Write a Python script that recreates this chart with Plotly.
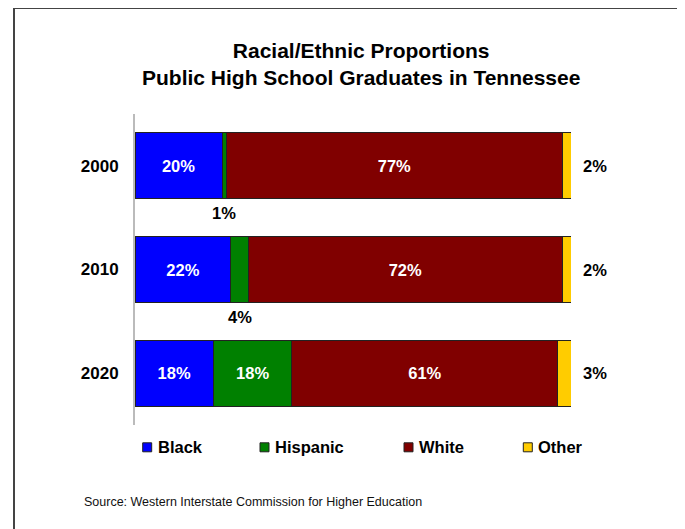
import plotly.graph_objects as go

# ---- data ----
years = ["2000", "2010", "2020"]
black = [20, 22, 18]
hispanic = [1, 4, 18]
white = [77, 72, 61]
other = [2, 2, 3]
series_names = ["Black", "Hispanic", "White", "Other"]
series_colors = ["#0000FF", "#008000", "#800000", "#FFCC00"]
title_text = "Racial/Ethnic Proportions<br>Public High School Graduates in Tennessee"
source_text = "Source: Western Interstate Commission for Higher Education"

FONT = "Liberation Sans, Arial, sans-serif"
OFF = 8  # page body margin offset
W, H = 685 - OFF, 529 - OFF
# plot area in page pixels: x 135..571, y 114..425
L = 135 - OFF
R = W - (571 - OFF)
T = 114 - OFF
B = H - (425 - OFF)
PW, PH = W - L - R, H - T - B

cat_order = years[::-1]  # bottom-to-top order on the category axis


def px2x(px):  # page px -> paper x
    return (px - OFF - L) / PW


def py2y(py):  # page py -> paper y
    return (H - B - (py - OFF)) / PH


def pct(v):
    return f"{v}%"


def bold(s):
    return "<b>" + s + "</b>"


fig = go.Figure()
values = [black, hispanic, white, other]
for name, color, vals in zip(series_names, series_colors, values):
    if name in ("Black", "White"):
        text = [bold(pct(v)) for v in vals]
    elif name == "Hispanic":
        text = [bold(pct(v)) if v >= 10 else "" for v in vals]
    else:
        text = ["" for v in vals]
    fig.add_trace(go.Bar(
        y=years, x=vals, name=name, orientation="h",
        marker=dict(color=color, line=dict(color="#222222", width=1)),
        text=text, textposition="inside", insidetextanchor="middle",
        textfont=dict(color="white", size=16.5, family=FONT),
        hoverinfo="skip", showlegend=False,
    ))

annotations = []
# small Hispanic labels below the bar
for yr, b, h in zip(years, black, hispanic):
    if h < 10:
        annotations.append(dict(
            x=b + h / 2, y=cat_order.index(yr), xref="x", yref="y",
            text=bold(pct(h)), showarrow=False, yshift=-47,
            font=dict(size=16.5, family=FONT, color="black"),
        ))
# Other labels right of the bar
for yr, b, h, w, o in zip(years, black, hispanic, white, other):
    annotations.append(dict(
        x=b + h + w + o, y=cat_order.index(yr), xref="x", yref="y",
        text=bold(pct(o)), showarrow=False, xanchor="left", xshift=10,
        font=dict(size=16.5, family=FONT, color="black"),
    ))

# manual legend
legend_sq_left = [142.7, 260, 404, 523.3]
legend_y = 447.3
shapes = []
for name, color, sx in zip(series_names, series_colors, legend_sq_left):
    shapes.append(dict(
        type="rect", xref="paper", yref="paper",
        x0=px2x(sx), x1=px2x(sx + 9), y0=py2y(legend_y + 4.5), y1=py2y(legend_y - 4.5),
        fillcolor=color, line=dict(color="#222222", width=1),
    ))
    annotations.append(dict(
        x=px2x(sx + 13), y=py2y(legend_y), xref="paper", yref="paper",
        text=bold(name), showarrow=False, xanchor="left", yanchor="middle",
        font=dict(size=16.5, family=FONT, color="black"),
    ))

# source note
annotations.append(dict(
    x=px2x(81.5), y=py2y(502), xref="paper", yref="paper", text=source_text,
    showarrow=False, xanchor="left", yanchor="middle",
    font=dict(size=12.5, family=FONT, color="#111111"),
))

# title
annotations.append(dict(
    x=px2x(361), y=py2y(64.5), xref="paper", yref="paper",
    text=bold(title_text), showarrow=False,
    xanchor="center", yanchor="middle",
    font=dict(size=21, family=FONT, color="black"),
))

# outer frame
shapes.append(dict(
    type="rect", xref="paper", yref="paper", layer="above",
    x0=px2x(14), x1=px2x(681), y0=py2y(545), y1=py2y(8),
    line=dict(color="#444444", width=2), fillcolor="rgba(0,0,0,0)",
))

fig.update_layout(
    width=W, height=H,
    margin=dict(l=L, r=R, t=T, b=B, pad=0, autoexpand=False),
    barmode="stack", bargap=0.364,
    paper_bgcolor="white", plot_bgcolor="white",
    font=dict(family=FONT, color="black"),
    xaxis=dict(range=[0, 100], showticklabels=False, showgrid=False,
               zeroline=False, showline=False, ticks=""),
    yaxis=dict(
        type="category",
        categoryorder="array", categoryarray=cat_order,
        range=[-0.5, len(years) - 0.5],
        showline=True, linecolor="#BBBBBB", linewidth=2,
        showgrid=False, zeroline=False,
        ticks="outside", ticklen=11, tickcolor="rgba(0,0,0,0)",
        tickvals=years, ticktext=[bold(y) for y in years],
        tickfont=dict(size=17, family=FONT, color="black"),
    ),
    shapes=shapes, annotations=annotations,
    showlegend=False,
)

fig.write_html("out.html")
